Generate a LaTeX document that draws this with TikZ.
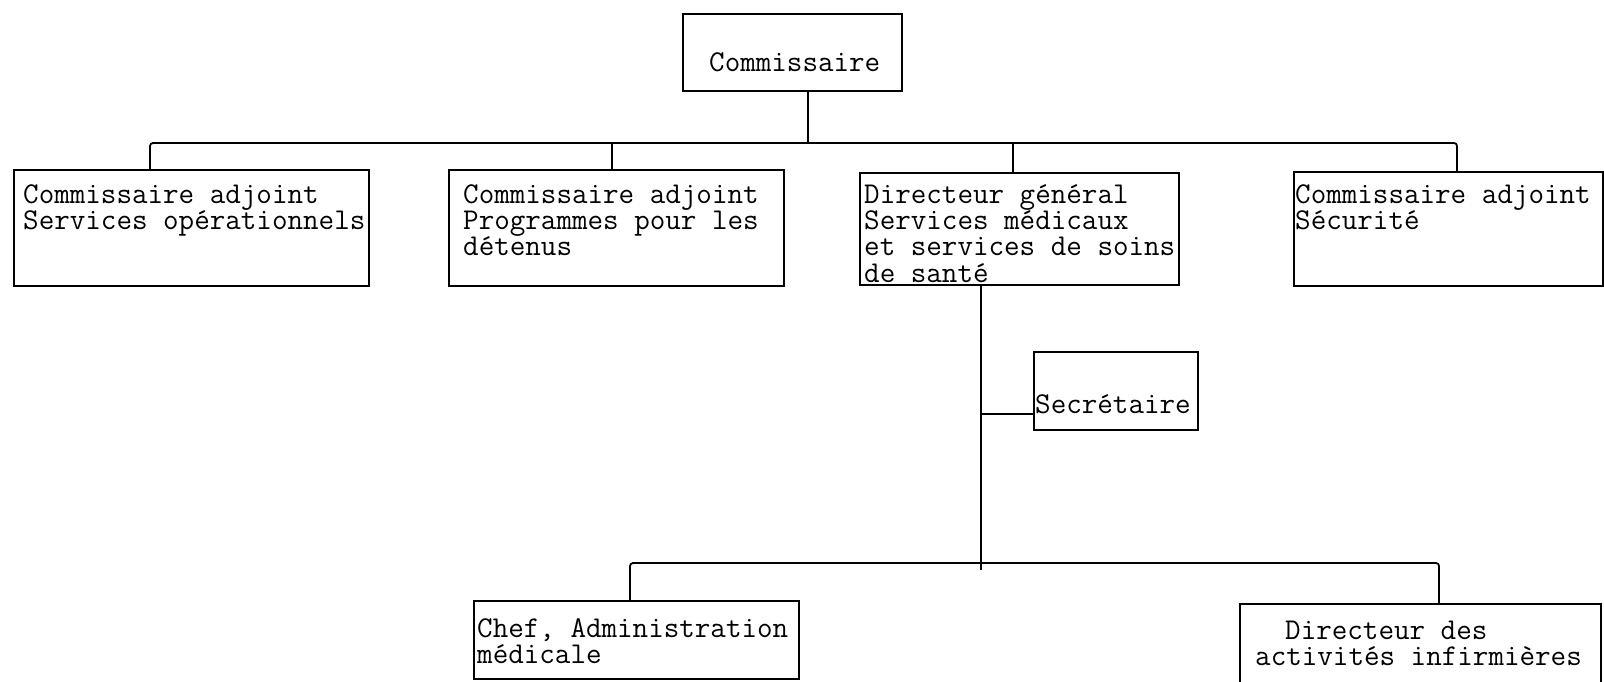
\documentclass[tikz,border=0pt]{standalone}
\usepackage{fontspec}
\tikzset{
  orgbox/.style={draw, line width=2pt, inner sep=0pt, anchor=north west},
  orgtext/.style={font=\ttfamily\fontsize{30.2}{26}\selectfont\addfontfeatures{FakeBold=1.4},
                  inner sep=0pt, anchor=base west},
  link/.style={line width=1.8pt, rounded corners=3pt}
}
\newcommand{\orgbx}[5]{% name, x1, y1, x2, y2
  \node[orgbox, minimum width={#4-#2}, minimum height={#5-#3}] (#1) at (#2,#3) {};}
% multi-line label whose baseline is that of its first line
\newcommand{\lines}[1]{\begin{tabular}[t]{@{}l@{}}#1\end{tabular}}
\begin{document}
\begin{tikzpicture}[x=1pt,y=-1pt]
  \useasboundingbox (0,0) rectangle (1604,681);

  % boxes
  \orgbx{comm}{682}{13}{901}{90}
  \orgbx{adjops}{13}{169}{368}{285}
  \orgbx{adjprog}{448}{169}{783}{285}
  \orgbx{dg}{859}{172}{1178}{284}
  \orgbx{adjsec}{1293}{171}{1602}{285}
  \orgbx{sec}{1033}{351}{1197}{429}
  \orgbx{chef}{473}{600}{798}{678}
  \orgbx{dai}{1239}{603}{1600}{684}

  % labels
  \node[orgtext] (comm-t) at (709,71) {Commissaire};
  \node[orgtext] (adjops-t) at (23,203) {\lines{Commissaire adjoint\\Services opérationnels}};
  \node[orgtext] (adjprog-t) at (463,203) {\lines{Commissaire adjoint\\Programmes pour les\\détenus}};
  \node[orgtext] (dg-t) at (864,203) {\lines{Directeur général\\Services médicaux\\et services de soins\\de santé}};
  \node[orgtext] (adjsec-t) at (1295,203) {\lines{Commissaire adjoint\\Sécurité}};
  \node[orgtext] (sec-t) at (1035,413) {Secrétaire};
  \node[orgtext] (chef-t) at (477,637) {\lines{Chef, Administration\\médicale}};
  \node[orgtext] (dai-t1) at (1285,639) {Directeur des};
  \node[orgtext] (dai-t2) at (1255,665) {activités infirmières};

  % junction points
  \coordinate (busA) at (150,143);
  \coordinate (busB) at (612,143);
  \coordinate (busC) at (808,143);
  \coordinate (busD) at (1013,143);
  \coordinate (busE) at (1457,143);
  \coordinate (dgdown) at (981,284);
  \coordinate (dgend) at (981,570);
  \coordinate (secjoin) at (981,414);
  \coordinate (busF) at (630,563);
  \coordinate (busH) at (1439,563);

  % top level
  \draw[link] (comm.south -| busC) -- (busC);
  \draw[link] (busA |- adjops.north) -- (busA) -- (busE) -- (busE |- adjsec.north);
  \draw[link] (busB) -- (busB |- adjprog.north);
  \draw[link] (busD) -- (busD |- dg.north);

  % medical services branch
  \draw[link] (dgdown) -- (dgend);
  \draw[link] (secjoin) -- (secjoin -| sec.west);
  \draw[link] (busF |- chef.north) -- (busF) -- (busH) -- (busH |- dai.north);
\end{tikzpicture}
\end{document}
